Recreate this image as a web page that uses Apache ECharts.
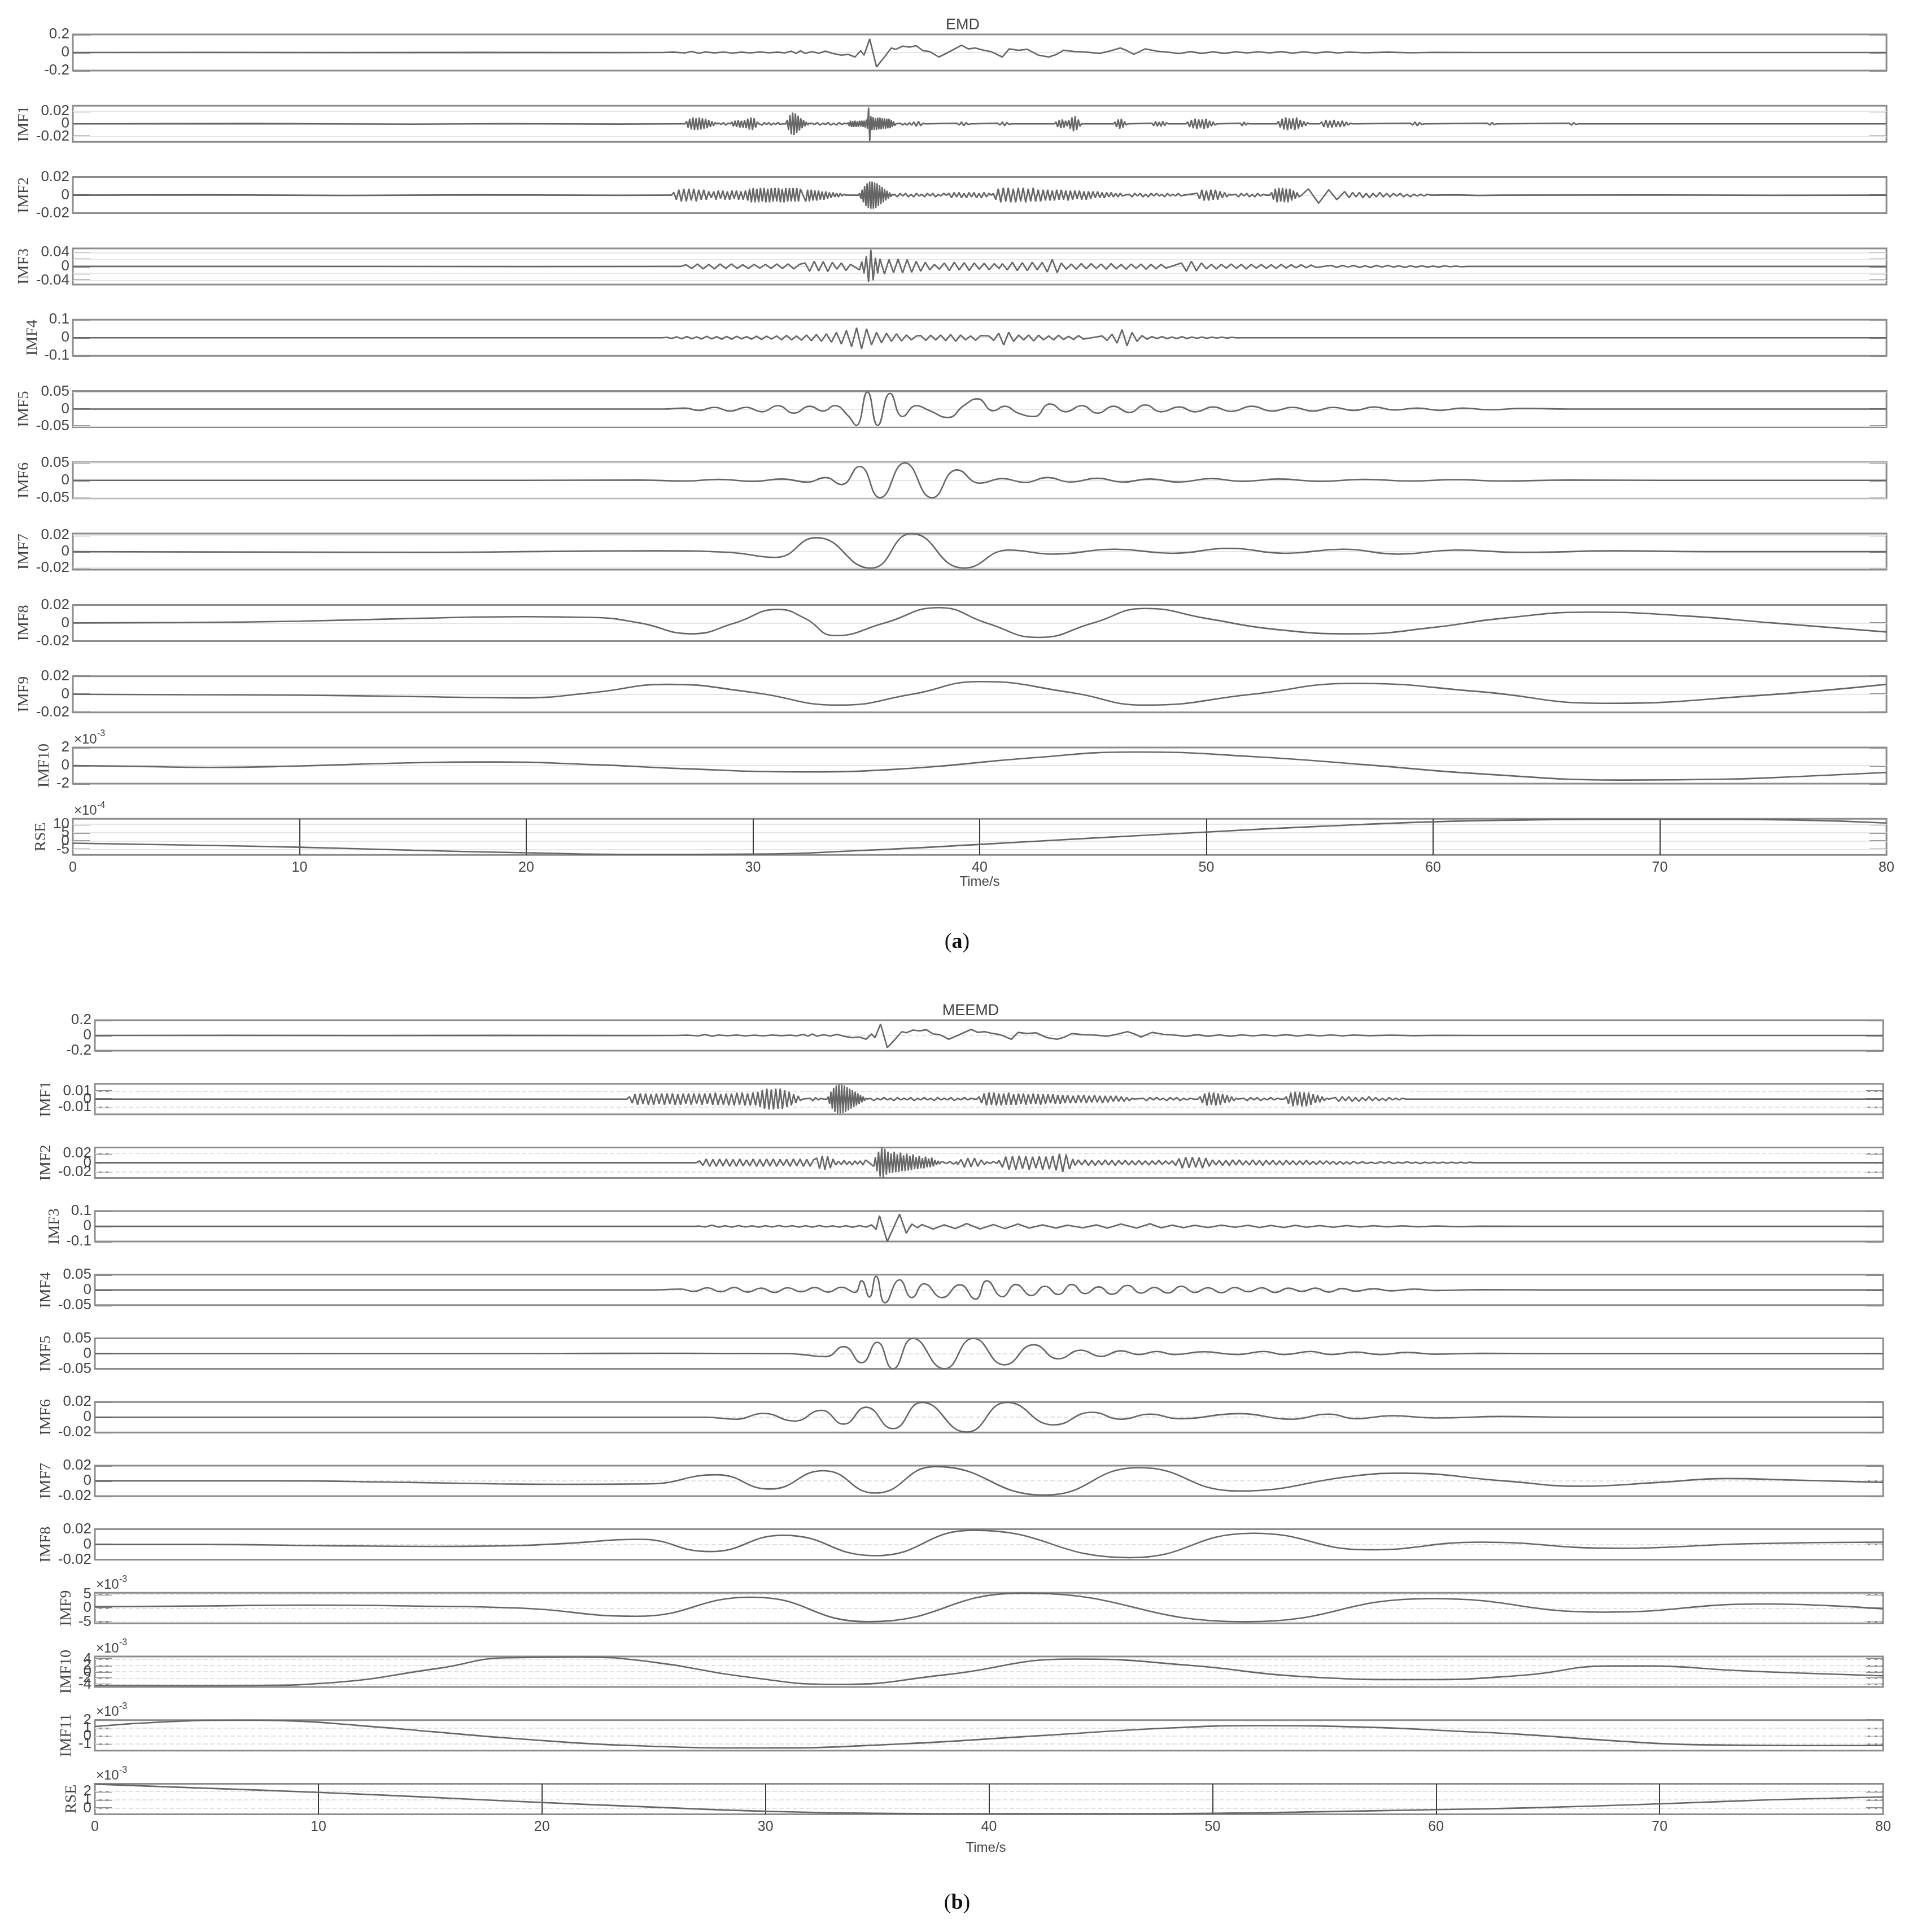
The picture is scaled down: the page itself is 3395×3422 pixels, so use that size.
<!DOCTYPE html>
<html>
<head>
<meta charset="utf-8">
<script src="https://cdn.jsdelivr.net/npm/echarts@6/dist/echarts.min.js"></script>
<style>
html, body { margin: 0; background: #fff; }
#chart { width: 3395px; height: 3422px; }
</style>
</head>
<body>
<div id="chart"></div>
<script>
// values are in thousandths (x1e-3) unless the panel carries its own exponent.
// an entry [t, v] is one point; [t0, dt, v0, v1, ...] is a run of samples dt seconds apart.
var signal = [
  [0,0],[6,0.8],[12,-0.8],[18,0.8],[24,-0.8],[26,0],[26.5,4],[27,-5],[27.3,12],[27.6,-10],[27.9,6],[28.3,-4],[28.7,5],
  [29.1,-6],[29.5,4],[29.9,-5],[30.3,6],[30.7,-3],[31.1,4],[31.4,-5],[31.7,15],[31.9,-10],[32.1,20],[32.3,-10],[32.6,10],
  [32.9,-8],[33.2,15],[33.5,-10],[33.9,-30],[34.2,-20],[34.5,-50],[34.75,20],[34.9,-30],[35.15,150],[35.45,-160],[35.8,-50],
  [36.1,50],[36.3,35],[36.6,70],[36.9,60],[37.2,75],[37.5,20],[37.8,10],[38.2,-50],[38.6,0],[39.2,80],[39.5,40],[39.8,50],
  [40.1,30],[40.5,10],[41,-50],[41.3,40],[41.7,25],[42.1,35],[42.6,-30],[43.05,-50],[43.4,-20],[43.7,25],[44.2,10],[44.7,5],
  [45.3,-10],[45.8,20],[46.2,50],[46.5,20],[46.8,-20],[47.3,40],[47.8,15],[48.3,5],[48.8,-12],[49.3,10],[49.8,-10],[50.3,8],
  [50.8,-10],[51.3,8],[51.8,-5],[52.3,8],[52.8,-5],[53.3,10],[53.8,-8],[54.3,8],[54.8,-6],[55.3,7],[55.8,-5],[56.3,5],
  [57,-3],[58,4],[59,-3],[60,2],[62,0],[80,0]
];

var emdImf1 = [
  [0,0],[8,0.4],[15,-0.4],[19,0.3],[24,-0.3],[26.5,0],
  [27.0,0.07, 0,4,-6,8,-9,10,-10,9,-10,10,-9,9,-8,8,-7,6,-5,4,-3,2,0],
  [28.5,0.1, 1,-1,2,-2,1,0],
  [29.0,0.07, 0,3,-4,5,-5,6,-6,5,-6,6,-7,8,-9,10,-10,9,-6,3,0],
  [30.3,0.1, 1,-2,2,-1,2,-2,1,-1,2,-1,0],
  [31.45,0.06, 0,6,-10,14,-17,18,-18,17,-15,13,-11,9,-7,6,-4,3,-2,1,0],
  [32.6,0.12, 1,-1,2,-2,1,-1,2,-2,1,-2,2,-1,1,0],
  [34.2,0.05, 2,-4,5,-5,4,-5,5,-5,4,-5,5,-4,5,-5,5,-6,7,-8,26,-28,12,-10,11,-10,9,-10,10,-9,10,-9,9,-8,9,-8,8,-7,8,-7,6,-5,4,-3,0],
  [36.5,0.1, 1,-2,1,-2,2,-2,3,-4,4,-3,1,0],
  [39.0,0.1, 1,-2,3,-3,2,-1,0],
  [40.8,0.1, 1,-2,3,-3,2,-1,0],
  [43.3,0.07, 0,3,-5,6,-7,7,-6,5,-4,6,-8,10,-12,12,-10,7,-4,0],
  [45.9,0.07, 0,3,-5,7,-8,8,-6,4,-2,0],
  [47.6,0.08, 1,-3,4,-4,3,-4,4,-3,2,0],
  [49.1,0.08, 0,3,-5,6,-7,8,-8,7,-6,7,-8,8,-7,5,-4,3,-2,0],
  [51.5,0.08, 1,-3,3,-2,1,0],
  [53.1,0.08, 0,4,-6,8,-9,10,-10,9,-8,9,-10,10,-8,6,-5,4,-3,2,0],
  [55.0,0.09, 0,3,-5,6,-6,5,-6,6,-5,4,-5,5,-4,3,-2,1,0],
  [59.0,0.1, 1,-2,3,-3,2,-1,0],
  [62.4,0.1, 1,-2,2,-1,0],
  [66.0,0.1, 1,-2,2,-1,0],
  [80,0]
];

var emdImf2 = [
  [0,0],[6,0.3],[12,-0.3],[18,0.3],[24,-0.2],[26.3,0],
  [26.4,0.11, 0,3,-5,6,-7,7,-7,7,-6,7,-7,6,-5,6,-5,4,-3],
  [28.27,0.1, 4,-5,5,-4,5,-5,4,-5,5,-4,5,-5,4,-5,5],
  [29.77,0.08, -6,7,-8,8,-8,7,-8,8,-7,8,-8,7,-8,8,-7,8,-7,8,-8,7,-8,8,-7,8,-7,8,-7,8,-7,7],
  [32.33,0.08, -7,6,-7,6,-6,5,-6,5,-5,4,-5,4,-4,3,-3,3,-2,2,-2,2,-1,1,0],
  [34.65,0.055, 0,2,-4,6,-8,10,-12,13,-14,15,-15,15,-15,14,-14,13,-12,11,-10,9,-8,7,-6,5,-4,3,-2,1,0],
  [36.25,0.12, 1,-2,2,-1,2,-2,1,-2,2,-1,1,-2,2,-1,2,-2,1,-1,2,0],
  [38.65,0.11, 2,-3,3,-2,3,-3,2,-3,3,-2,3,-3,2,-3,3,-2,2,0],
  [40.6,0.11, 2,-5,7,-8,8,-7,8,-8,7,-8,8,-7,8,-8,7,-7,8,-7,6,-7,6],
  [42.9,0.1, -6,6,-6,5,-6,6,-5,6,-5,5,-6,5,-5,5,-4,5,-5,4,-5,4,-4,4,-3,4,-3,3,-3,3,-2,3,-2,2,-2,2,-1,0],
  [46.6,0.12, 1,-2,2,-1,2,-2,1,-2,2,-1,2,-1,1,-2,2,-1,1,-1,2,-1,0],
  [49.6,0.1, 2,-4,6,-6,5,-6,6,-5,6,-5,4,-3,3,-2,1,0],
  [51.3,0.12, 1,-2,2,-1,2,-2,1,-2,2,-1,1,0],
  [52.8,0.08, 0,3,-5,7,-8,8,-7,8,-8,7,-8,7,-6,5,-4,3,-2],
  [54.2,0],[54.5,7],[54.95,-9],[55.4,6],[55.75,-5],[56.1,4],
  [56.3,0.15, -3,3,-2,3,-3,2,-3,2,-2,3,-2,2,-2,2,-1,2,-2,1,-2,1,-1,1,-1,1,0],
  [61,0.3],[62,-0.3],[63,0],[70,0.2],[75,-0.2],[80,0]
];

var emdImf3 = [
  [0,0],[10,0.3],[20,-0.3],[26.7,0],
  [26.8,0.25, 0,5,-6,7,-7,6,-7,7,-6,7,-6,5,-6,6,-5,6,-6,7,-6,7,-7,6],
  [32.3,0.2, 10,-14,15,-13,14,-15,12,-8,10,-12,6],
  [34.7,0.1, -10,14,-20,30,-45,48,-40,25,-20,22],
  [35.8,0.2, -22,20,-18,21,-19,20,-17,15,-14,12,-10],
  [38.0,0.22, 6,-8,10,-12,12,-10,11,-12,10,-8,9,-10,8,-6],
  [41.0,0.22, 8,-10,12,-12,11,-12,12,-10,12,-16,20,-18],
  [43.6,0.22, 10,-8,7,-8,8,-7,8,-6,7,-8,8,-7,6,-8,7,-6,7,-8,6,-7,6,-5],
  [48.9,0.22, 10,-14,15,-13,10],
  [50.0,0.22, -7,6,-7,6,-5,7,-6,6,-7,6,-5,6,-6,5,-6,6,-5,5,-4,5,-4,4,-3],
  [55.5,0.25, 3,-3,3,-2,3,-3,2,-3,3,-2,3,-2,2,-3,2,-2,2,-2,1,-2,2,-1,1,-1,0],
  [70,0.3],[80,0]
];

var emdImf4 = [
  [0,0],[26,0],
  [26.2,0.22, 2,-4,5,-6,7,-6,5,-7,8,-7,6,-8,7,-8,8,-7,6,-8,9,-10,9,-8,10,-12,13,-12,10,-14,15,-16,18,-20,22,-25,30,-35,40],
  [34.35,0.22, -50,55,-62,50,-40,30,-28,25,-20,22,-18,15,-12,10],
  [37.4,0.22, 12,-15,14,-12,15,-16,18,-20,15,-12,10,-14,12],
  [40.4,0.22, 10,-15,25,-40,30,-20,15,-12,15,-18,14,-12,10,-12,14,-10,8,-10,12,-8],
  [45.4,0.22, 10,-15,20,-30,45,-45,30,-20,12,-8],
  [47.6,0.22, 6,-5,6,-5,4,-5,6,-5,4,-3,4,-3,3,-2,3,-2,2,-1,0],
  [56,0],[80,0]
];

var emdImf5 = [
  [0,0],[26,0],[27,3],[27.6,-4],[28.3,5],[29,-6],[29.7,5],[30.4,-8],[31.1,10],[31.8,-12],[32.5,8],[33.1,-6],[33.6,10],
  [34.2,-20],[34.55,-48],[35.05,50],[35.5,-48],[36.05,46],[36.6,-22],[37.2,10],[37.8,-5],[38.6,-25],[39.3,10],[39.9,30],
  [40.6,-5],[41.1,8],[41.7,-12],[42.4,-22],[43.1,15],[43.8,-8],[44.5,10],[45.2,-12],[45.9,8],[46.6,-10],[47.3,12],[48,-8],
  [48.8,6],[49.5,-8],[50.3,6],[51.1,-7],[52,8],[52.9,-6],[53.8,5],[54.7,-6],[55.6,5],[56.5,-4],[57.4,6],[58.3,-3],
  [59.3,3],[60.3,-4],[61.3,3],[62.5,-2],[64,2],[66,0],[80,0]
];

var emdImf6 = [
  [0,0],[20,0],[25,1],[27,-2],[28.5,3],[30,-3],[31.3,4],[32.4,-5],[33.2,8],[33.9,-12],[34.7,40],[35.6,-50],[36.7,50],
  [37.9,-50],[39,30],[40,-8],[41,5],[42,-6],[43,8],[44,-5],[45.2,6],[46.3,-5],[47.5,4],[48.8,-5],[50.2,5],[51.6,-3],
  [53.2,4],[55,-3],[57,3],[59,-2],[61,2],[63,-2],[66,1],[70,0],[80,0]
];

var emdImf7 = [
  [0,0],[15,-1],[22,0.5],[26,1],[29,-1],[31,-7],[32.8,17],[35.2,-20],[37,22],[39.3,-20],[41.3,2],[43.2,-3],[46,3],
  [48.5,-2],[51,4],[53.5,-2],[56,3],[58.5,-3],[61,2],[64,-1],[68,1],[72,0],[80,0]
];

var emdImf8 = [
  [0,0],[5,0.5],[10,2],[15,5],[20,7],[23,6],[25,0],[27.3,-12],[29.2,0],[31.1,15],[32.3,5],[33.6,-14],[35.8,0],[38.2,17],
  [40.3,0],[42.6,-16],[45,0],[47.3,16],[50,5],[53,-7],[56.6,-12],[60,-5],[63,5],[67,12],[71,8],[75,0],[80,-10]
];

var emdImf9 = [
  [0,0],[5,-0.5],[10,-1],[15,-2.5],[19.7,-4],[23,2],[26.2,11],[30,2],[33.8,-12],[37,0],[40,14],[44,2],[47.3,-12],
  [52,0],[56.5,12],[62,3],[67.5,-10],[74,-2],[80,11]
];

// x1e-3
var emdImf10 = [
  [0,0],[3,-0.1],[6,-0.2],[10,-0.05],[14,0.25],[18.6,0.4],[23,0.1],[27,-0.35],[32,-0.7],[37,-0.3],[42,0.8],[47,1.5],
  [52,1.0],[57,0.1],[62,-0.9],[68.5,-1.6],[73,-1.5],[76.2,-1.2],[80,-0.77]
];

// x1e-4
var emdRse = [
  [0,-1.3],[5,-2.4],[10,-3.7],[15,-5.5],[20,-7],[25,-8],[30,-7.8],[35,-5.5],[40,-2],[45,1.8],[50,5.4],[55,8.8],
  [60,11.5],[64,12.6],[68,13],[72,13],[76,12.6],[80,10.8]
];

var meemdImf1 = [
  [0,0],[23.7,0],
  [23.8,0.12, 0,3,-5,6,-7,7,-6,7,-7,6,-7,7,-6,7,-7,7,-6,7,-7,6,-7,7,-6,7,-7,7,-6,7,-7,7,-6,7,-7,8,-7,6,-7,7,-8,7,-8,8,-7,8,-8,7,-8,8],
  [29.56,0.1, -8,9,-10,11,-12,13,-13,12,-13,13,-12,13,-12,11,-10,9,-8,6,-5,4,-2,0],
  [32.0,0.12, 1,-2,2,-1,1,0],
  [32.75,0.06, 0,3,-6,9,-12,14,-16,17,-18,18,-18,18,-17,17,-16,15,-14,13,-12,11,-10,9,-8,7,-6,5,-4,3,-2,1,0],
  [34.7,0.15, 1,-2,1,-1,2,-1,1,-2,2,-1,1,-1,2,-2,1,-1,2,-1,1,-2,2,-1,1,-1,2,-2,1,-1,2,-1,1,0],
  [39.45,0.11, 0,3,-5,7,-8,8,-7,8,-8,7,-8,7,-7,8,-7,6,-7,7,-6,7,-7,6,-6,7,-6,6,-7,6,-6,6,-5,6,-6,5,-6,5],
  [43.4,0.12, -5,5,-5,4,-5,5,-4,5,-5,4,-4,5,-4,4,-5,4,-4,4,-3,4,-3,3,-3,2,-2,1,0],
  [46.9,0.15, 1,-2,2,-1,2,-1,1,-2,2,-1,2,-2,1,-1,1,0],
  [49.35,0.1, 0,3,-5,7,-8,8,-7,8,-8,7,-7,6,-5,5,-4,3,-2,1,0],
  [51.4,0.15, 1,-2,2,-1,2,-2,1,-1,2,-1,1,0],
  [53.2,0.1, 0,3,-6,8,-9,9,-8,9,-9,8,-9,8,-7,6,-5,5,-4,3,-2,1,0],
  [55.5,0.15, 2,-3,3,-2,3,-3,2,-3,2,-2,3,-2,2,-2,1,-2,2,-1,1,-1,1,0],
  [62,0],[80,0]
];

var meemdImf2 = [
  [0,0],[26.8,0],
  [26.9,0.15, 0,4,-6,8,-8,7,-8,8,-7,8,-8,7,-8,8,-7,6,-7,8,-8,7,-8,8,-7,8,-8,7,-6,7,-8,8,-7,8,-8,7,-8,6],
  [32.3,0.12, 10,-13,15,-15,14,-12,8,-5,3],
  [33.4,0.12, -4,5,-4,3,-5,4,-3,4,-5,6],
  [34.85,0.07, -8,12,-18,24,-30,33,-33,30,-26,24,-22,20,-22,24,-20,18,-20,22,-18,16,-18,20,-17,15,-16,18,-14,12,-14,15,-12,10,-12,13,-10,9,-10,11,-8,6,-5,4,-3,2],
  [37.95,0.15, 2,-2,3,-3,2],
  [38.6,0.15, -4,7,-10,10,-9,10,-8,6,-4],
  [39.9,0.15, 2,-2,3,-2],
  [40.45,0.15, 5,-10,13,-15,14,-15,15,-13,14,-15,13,-12,14,-15,13,-14,15,-17,19,-20,18,-14,8],
  [43.85,0.15, -6,6,-5,6,-6,5,-6,5,-5,6,-5,5,-6,5,-4,5,-5,4,-5,5,-4,4,-5,4,-4,5,-4,4,-3,4],
  [48.35,0.15, -6,9,-12,12,-11,12,-10,11,-12,10,-8,6,-5],
  [50.3,0.15, 5,-6,5,-6,6,-5,6,-5,4,-5,6,-5,5,-6,5,-4,5,-5,4,-5,5,-4,4,-5,4,-4,5,-4,3,-4,4,-3,4,-3,3,-4,3,-3,2,-3,3],
  [56.5,0.2, -2,2,-2,1,-2,2,-1,2,-2,1,-1,2,-1,1,-2,1,-1,1,-1,1,-1,1,-1,1,-1,1,0],
  [80,0]
];

var meemdImf3 = [
  [0,0],[26.9,0],
  [27.0,0.3, 2,-4,8,-5,4,-5,5,-4,3,-5,4,-4,5,-3,4,-5,4,-5,5,-4,3,-5,4,-6,5],
  [34.5,-5],[34.75,10],[34.95,-20],[35.1,70],[35.45,-100],[36.0,80],[36.3,-45],[36.55,15],[36.8,-10],
  [37.0,12],[37.5,-18],[38.0,10],[38.5,-15],[39.0,18],[39.6,-17],[40.2,12],[40.7,-15],[41.3,15],[41.8,-12],[42.4,10],
  [43.0,-12],[43.5,8],[44.2,-10],[44.8,10],[45.3,-12],[45.9,15],[46.6,-12],[47.2,17],[47.7,-10],[48.2,8],[48.7,-9],
  [49.2,7],[49.8,-8],[50.4,8],[51.0,-6],[51.6,7],[52.1,-8],[52.6,6],[53.2,-8],[53.7,7],[54.2,-6],[54.8,5],[55.4,-6],
  [56.0,5],[56.6,-4],[57.2,4],[57.8,-3],[58.5,3],[59.2,-3],[60,2],[61,-2],[62,1],[64,0],[80,0]
];

var meemdImf4 = [
  [0,0],[25,0],
  [26.2,0.6, 3,-5,7,-6,8,-7,6,-8,7,-6,8,-7,9,-8],
  [34.3,30],[34.65,-23],[34.95,45],[35.35,-42],[36.0,33],[36.55,-25],[37.1,20],[37.9,-25],[38.7,17],[39.4,-30],
  [39.9,30],[40.6,-22],[41.2,18],[41.9,-18],[42.5,12],[43.1,-15],[43.7,18],[44.3,-12],[44.9,10],[45.5,-14],[46.2,15],
  [46.8,-10],[47.4,8],[48.0,-10],[48.6,12],[49.2,-8],[49.8,7],[50.4,-9],[51.0,8],[51.6,-6],[52.2,7],[52.8,-8],[53.4,6],
  [54.0,-5],[54.6,6],[55.2,-7],[55.8,5],[56.4,-4],[57.2,4],[58,-3],[59,3],[60,-2],[62,1],[65,0],[80,0]
];

var meemdImf5 = [
  [0,0],[21,0.5],[25,1],[28,0.5],[30.9,0],[31.6,-3],[32.7,-10],[33.5,23],[34.3,-30],[35.0,37],[35.7,-50],[36.6,50],
  [38.0,-50],[39.3,50],[40.7,-37],[42.0,29],[43.1,-17],[44.1,11],[45.0,-9],[45.9,9],[46.7,-3],[47.5,7],[48.3,-3],
  [49.6,6],[51.1,-3],[52.3,7],[53.2,-3],[54.4,7],[55.3,-3],[56.4,5],[57.5,-3],[58.7,4],[60,-2],[62,1],[65,0],[80,0]
];

var meemdImf6 = [
  [0,0],[20,0],[27.3,0],[28.7,-2.6],[29.9,5],[31.3,-5],[32.5,9],[33.5,-9],[34.5,13],[35.7,-15],[37.0,19.5],[39.0,-19.5],
  [40.8,19.5],[42.9,-10],[44.6,6.5],[45.9,-2.6],[47.2,4],[48.5,-2],[51.2,4.7],[53.5,-2.6],[55.2,4],[56.4,-2],[58,2],
  [60,-1],[63,1],[66,0],[80,0]
];

var meemdImf7 = [
  [0,0],[8,0],[14,-2],[18,-4],[21,-4.5],[24.8,-4],[27.8,8],[30.2,-10.7],[32.6,13.3],[34.9,-16],[37.6,18.7],[42.5,-18.7],
  [46.7,17.3],[51.1,-13.3],[56.5,7],[58.5,10],[63,0],[66.5,-7],[70,-2],[73,3],[76,1],[80,-2]
];

var meemdImf8 = [
  [0,0],[5,0],[10,-1.5],[15,-2.5],[18,-2],[21,1.3],[24.4,6.7],[27.5,-9.3],[30.8,12],[34.9,-14.7],[39.3,18.7],
  [46.3,-17.3],[51.8,14.7],[57,-7],[62,3],[68,-5],[74,1],[80,3]
];

// x1e-3
var meemdImf9 = [
  [0,0.5],[5,0.8],[9.5,1.1],[14,0.8],[19,0],[24.2,-3],[29.4,4],[34.6,-5],[41.5,5.5],[51.5,-5],[59.8,3.5],[67.5,-1.5],
  [74.6,1.5],[80,-0.3]
];

var meemdImf10 = [
  [0,-4.3],[4,-4.4],[7.35,-4.3],[10.3,-3.6],[15.3,1],[18.5,4.4],[21.7,4.6],[25,3],[29,-1.5],[33.3,-4],[38,-1],[43.8,4],
  [49,2],[54,-1.5],[59.2,-2.5],[63.9,-1.1],[67.8,1.8],[69.5,1.8],[73.4,0.4],[76.2,-0.4],[80,-1.3]
];

var meemdImf11 = [
  [0,1.2],[3.3,1.8],[6.8,2.0],[8.8,1.9],[11.7,1.35],[15.3,0.5],[18.5,-0.25],[24,-1.2],[30,-1.5],[36,-1.0],[42,0],
  [48,1.0],[52,1.3],[57,1.1],[61,0.6],[63.9,0.2],[68,-0.6],[71.8,-1.1],[76,-1.2],[80,-1.2]
];

var meemdRse = [
  [0,2.9],[5,2.4],[10,1.9],[15,1.3],[18.5,0.85],[25,0.1],[30,-0.4],[35,-0.65],[40,-0.7],[45,-0.7],[50,-0.65],
  [55,-0.45],[60,-0.2],[63.9,0],[70,0.5],[75,1.0],[80,1.35]
];

var timeTicks = [0, 10, 20, 30, 40, 50, 60, 70, 80];
var timeLines = [10, 20, 30, 40, 50, 60, 70];

var emdPanels = [
  { name: '',      data: signal,   min: -200, max: 200, ticks: [-200, 0, 200], labels: [-200, 0, 200], div: 1000 },
  { name: 'IMF1',  data: emdImf1,  min: -29,  max: 29,  ticks: [-20, 0, 20],   labels: [-20, 0, 20],   div: 1000 },
  { name: 'IMF2',  data: emdImf2,  min: -20,  max: 20,  ticks: [-20, 0, 20],   labels: [-20, 0, 20],   div: 1000 },
  { name: 'IMF3',  data: emdImf3,  min: -52,  max: 52,  ticks: [-40, -20, 0, 20, 40], labels: [-40, 0, 40], div: 1000 },
  { name: 'IMF4',  data: emdImf4,  min: -100, max: 100, ticks: [-100, 0, 100], labels: [-100, 0, 100], div: 1000 },
  { name: 'IMF5',  data: emdImf5,  min: -53,  max: 53,  ticks: [-50, 0, 50],   labels: [-50, 0, 50],   div: 1000, smooth: true },
  { name: 'IMF6',  data: emdImf6,  min: -52,  max: 52,  ticks: [-50, 0, 50],   labels: [-50, 0, 50],   div: 1000, smooth: true },
  { name: 'IMF7',  data: emdImf7,  min: -22,  max: 22,  ticks: [-20, 0, 20],   labels: [-20, 0, 20],   div: 1000, smooth: true },
  { name: 'IMF8',  data: emdImf8,  min: -20,  max: 20,  ticks: [-20, 0, 20],   labels: [-20, 0, 20],   div: 1000, smooth: true },
  { name: 'IMF9',  data: emdImf9,  min: -20,  max: 20,  ticks: [-20, 0, 20],   labels: [-20, 0, 20],   div: 1000, smooth: true },
  { name: 'IMF10', data: emdImf10, min: -2,   max: 2,   ticks: [-2, 0, 2],     labels: [-2, 0, 2],     div: 1, exp: '-3', smooth: true },
  { name: 'RSE',   data: emdRse,   min: -8.3, max: 13.3, ticks: [-5, 0, 5, 10], labels: [-5, 0, 5, 10], div: 1, exp: '-4', smooth: true }
];

var meemdPanels = [
  { name: '',      data: signal,     min: -200, max: 200, ticks: [-200, 0, 200], labels: [-200, 0, 200], div: 1000 },
  { name: 'IMF1',  data: meemdImf1,  min: -19,  max: 19,  ticks: [-10, 0, 10],   labels: [-10, 0, 10],   div: 1000 },
  { name: 'IMF2',  data: meemdImf2,  min: -33,  max: 33,  ticks: [-20, 0, 20],   labels: [-20, 0, 20],   div: 1000 },
  { name: 'IMF3',  data: meemdImf3,  min: -100, max: 100, ticks: [-100, 0, 100], labels: [-100, 0, 100], div: 1000 },
  { name: 'IMF4',  data: meemdImf4,  min: -50,  max: 50,  ticks: [-50, 0, 50],   labels: [-50, 0, 50],   div: 1000, smooth: true },
  { name: 'IMF5',  data: meemdImf5,  min: -50,  max: 50,  ticks: [-50, 0, 50],   labels: [-50, 0, 50],   div: 1000, smooth: true },
  { name: 'IMF6',  data: meemdImf6,  min: -20,  max: 20,  ticks: [-20, 0, 20],   labels: [-20, 0, 20],   div: 1000, smooth: true },
  { name: 'IMF7',  data: meemdImf7,  min: -20,  max: 20,  ticks: [-20, 0, 20],   labels: [-20, 0, 20],   div: 1000, smooth: true },
  { name: 'IMF8',  data: meemdImf8,  min: -20,  max: 20,  ticks: [-20, 0, 20],   labels: [-20, 0, 20],   div: 1000, smooth: true },
  { name: 'IMF9',  data: meemdImf9,  min: -5.6, max: 5.6, ticks: [-5, 0, 5],     labels: [-5, 0, 5],     div: 1, exp: '-3', smooth: true },
  { name: 'IMF10', data: meemdImf10, min: -4.8, max: 4.8, ticks: [-4, -2, 0, 2, 4], labels: [-4, -2, 0, 2, 4], div: 1, exp: '-3', smooth: true },
  { name: 'IMF11', data: meemdImf11, min: -1.83, max: 2,  ticks: [-1, 0, 1, 2],  labels: [-1, 0, 1, 2],  div: 1, exp: '-3', smooth: true },
  { name: 'RSE',   data: meemdRse,   min: -0.76, max: 2.95, ticks: [0, 1, 2],    labels: [0, 1, 2],      div: 1, exp: '-3', smooth: true }
];

function expand(list) {
  var out = [];
  list.forEach(function (p) {
    if (p.length === 2) { out.push(p); return; }
    for (var k = 2; k < p.length; k++) out.push([+(p[0] + (k - 2) * p[1]).toFixed(3), p[k]]);
  });
  return out;
}

var SANS = '"Liberation Sans", Arial, sans-serif';
var SERIF = '"Liberation Serif", "Times New Roman", serif';
var BOX = '#8c8c8c';
var INK = '#444';
var TICK_FONT = '26px ' + SANS;

var measure = document.createElement('canvas').getContext('2d');
measure.font = TICK_FONT;

var grids = [], xAxes = [], yAxes = [], series = [], graphics = [], tickLabels = [];

function addBlock(panels, layout) {
  panels.forEach(function (p, i) {
    var gi = grids.length;
    var top = layout.top + i * layout.pitch;
    var last = i === panels.length - 1;
    var fmt = function (v) { return String(+(v / p.div).toFixed(4)); };
    var widest = 0;
    p.labels.forEach(function (v) {
      widest = Math.max(widest, measure.measureText(fmt(v)).width);
      tickLabels.push({ axis: 2 * gi, value: v, text: fmt(v), x: layout.left - 6 });
    });

    grids.push({ left: layout.left, width: layout.width, top: top, height: layout.height,
      show: true, borderColor: BOX, borderWidth: 3, backgroundColor: 'transparent' });

    xAxes.push({ type: 'value', gridIndex: gi, min: 0, max: 80, interval: 10, show: last,
      axisLine: { show: false }, axisTick: { show: false }, splitLine: { show: false },
      axisLabel: { show: last, margin: 10, fontFamily: SANS, fontSize: 25, color: INK } });

    yAxes.push({ type: 'value', gridIndex: gi, min: p.min, max: p.max, position: 'left',
      name: p.name, nameLocation: 'middle', nameGap: widest + 13,
      nameTextStyle: { fontFamily: SERIF, fontSize: 28, color: INK },
      axisLine: { show: false }, splitLine: { show: false }, axisLabel: { show: false },
      axisTick: { show: true, inside: true, length: 30, customValues: p.ticks, lineStyle: { color: BOX, width: 3 } } });
    yAxes.push({ type: 'value', gridIndex: gi, min: p.min, max: p.max, position: 'right',
      axisLine: { show: false }, splitLine: { show: false }, axisLabel: { show: false },
      axisTick: { show: true, inside: true, length: 30, customValues: p.ticks, lineStyle: { color: BOX, width: 3 } } });

    var marks = p.ticks.filter(function (v) { return v > p.min && v < p.max; })
      .map(function (v) { return { yAxis: v, lineStyle: { color: layout.gridColor, width: 2, type: layout.gridType } }; });
    if (last) {
      timeLines.forEach(function (t) { marks.push({ xAxis: t, lineStyle: { color: '#3a3a3a', width: 2, type: 'solid' } }); });
    }

    series.push({ type: 'line', xAxisIndex: gi, yAxisIndex: 2 * gi, data: expand(p.data),
      showSymbol: false, smooth: p.smooth ? 0.5 : false, silent: true, z: 3,
      lineStyle: { color: '#666', width: 2.6 },
      markLine: { silent: true, symbol: 'none', label: { show: false }, animation: false, z: 1, data: marks } });

    if (p.exp) {
      graphics.push({ type: 'text', x: layout.left + 2, y: top - 14,
        style: { text: '\u00d710', font: '24px ' + SANS, fill: INK, textVerticalAlign: 'middle' } });
      graphics.push({ type: 'text', x: layout.left + 43, y: top - 24,
        style: { text: p.exp, font: '16px ' + SANS, fill: INK, textVerticalAlign: 'middle' } });
    }
  });
}

addBlock(emdPanels, { left: 129, width: 3212, top: 61, pitch: 126.3, height: 64, gridColor: '#e6e6e6', gridType: 'solid' });
addBlock(meemdPanels, { left: 168, width: 3167, top: 1807, pitch: 112.7, height: 54, gridColor: '#e2e2e2', gridType: 'dashed' });

function label(text, x, y, size, family) {
  graphics.push({ type: 'text', x: x, y: y,
    style: { text: text, font: size + 'px ' + family, fill: INK, textAlign: 'center', textVerticalAlign: 'middle' } });
}
label('EMD', 1705, 45, 27, SANS);
label('MEEMD', 1719, 1791, 27, SANS);
label('Time/s', 1735, 1562, 24, SANS);
label('Time/s', 1746, 3273, 24, SANS);

[['a', 1669], ['b', 3371]].forEach(function (c) {
  graphics.push({ type: 'text', x: 1695, y: c[1],
    style: { text: '{n|(}{b|' + c[0] + '}{n|)}', textAlign: 'center', textVerticalAlign: 'middle',
      rich: { n: { font: '38px ' + SERIF, fill: '#111' }, b: { font: 'bold 38px ' + SERIF, fill: '#111' } } } });
});

var chart = echarts.init(document.getElementById('chart'));
chart.setOption({
  animation: false,
  backgroundColor: '#fff',
  grid: grids,
  xAxis: xAxes,
  yAxis: yAxes,
  series: series
});

// y tick labels are placed from the axis scale so that close labels may overlap as in the original
tickLabels.forEach(function (t) {
  var y = chart.convertToPixel({ yAxisIndex: t.axis }, t.value);
  graphics.push({ type: 'text', x: t.x, y: y,
    style: { text: t.text, font: TICK_FONT, fill: INK, textAlign: 'right', textVerticalAlign: 'middle' } });
});
chart.setOption({ graphic: graphics });
</script>
</body>
</html>
